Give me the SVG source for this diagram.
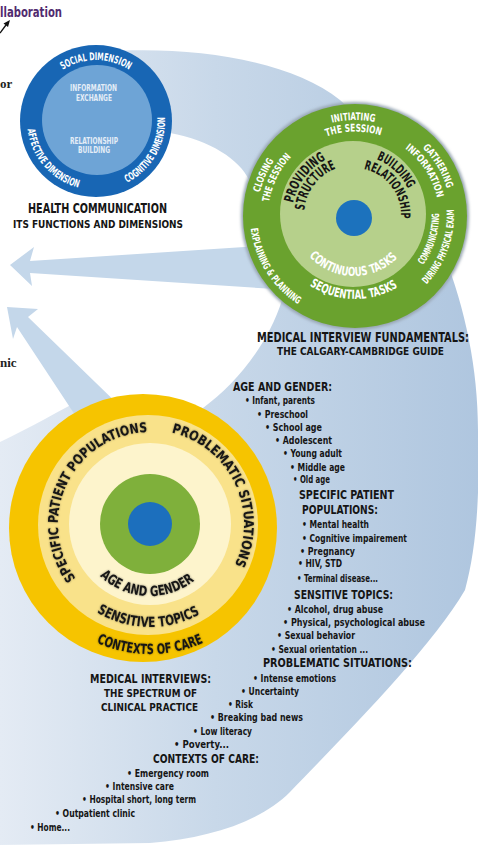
<svg xmlns="http://www.w3.org/2000/svg" xmlns:xlink="http://www.w3.org/1999/xlink" width="478" height="845" viewBox="0 0 478 845">
<style>
.t{font-family:"Liberation Sans Narrow","DejaVu Sans Condensed","Liberation Sans",Arial,sans-serif;font-weight:bold}
.w{fill:#ffffff}
.wl{fill:#e4edf7}
.k{fill:#151515}
.li{font-size:10px}
.lh{font-size:13px}
.ys{filter:url(#glow)}
.arrow{fill:#c4d7ea}
</style>
<defs>
<linearGradient id="bg" gradientUnits="userSpaceOnUse" x1="0" y1="0" x2="478" y2="0">
<stop offset="0" stop-color="#e4ebf4"/>
<stop offset="0.45" stop-color="#c8d8e9"/>
<stop offset="1" stop-color="#afc6df"/>
</linearGradient>
<filter id="glow" x="-10%" y="-10%" width="120%" height="120%">
<feGaussianBlur in="SourceAlpha" stdDeviation="1.2" result="b"/>
<feComponentTransfer in="b" result="s"><feFuncA type="linear" slope="0.45"/></feComponentTransfer>
<feMerge><feMergeNode in="s"/><feMergeNode in="SourceGraphic"/></feMerge>
</filter>
<filter id="shadow" x="-10%" y="-10%" width="120%" height="120%">
<feGaussianBlur stdDeviation="1.5"/>
</filter>
<path id="bSocial" d="M43.2,90.5 A61,61 0 0 1 148.8,90.5"/>
<path id="bCog" d="M96,190 A69,69 0 0 0 155.8,86.5"/>
<path id="bAff" d="M30.8,98.5 A69,69 0 0 0 109.2,188.7"/>
<path id="gInit" d="M271,169.5 A96,96 0 0 1 437.3,166.6"/>
<path id="gSess" d="M281.1,175 A84.5,84.5 0 0 1 427.4,172.5"/>
<path id="gGath" d="M353.3,120 A96,96 0 0 1 439,262.5"/>
<path id="gInfo" d="M350.6,132.1 A84,84 0 0 1 429.8,254.1"/>
<path id="gComm" d="M373.9,297.8 A84,84 0 0 0 416.4,158.7"/>
<path id="gDur" d="M372.2,313.5 A99,99 0 0 0 430.8,152.4"/>
<path id="gExpl" d="M262.3,166.7 A105,105 0 0 0 358.7,320.9"/>
<path id="gClos" d="M275.7,273.6 A98,98 0 0 1 344.8,118.5"/>
<path id="gThe" d="M282.9,264.6 A87,87 0 0 1 348.9,129.2"/>
<path id="gSeq" d="M282.4,256.2 A83,83 0 0 0 426.1,258.7"/>
<path id="gCont" d="M300.6,244.6 A61,61 0 0 0 406.3,246.4"/>
<path id="gProv" d="M296.9,239.2 A62,62 0 0 1 361.6,153.5"/>
<path id="gStru" d="M308,234.5 A50,50 0 0 1 360.1,165.4"/>
<path id="gBuil" d="M336.5,157.6 A60,60 0 0 1 412.5,228.5"/>
<path id="gRela" d="M348.3,168.4 A47,47 0 0 1 397.3,233.4"/>
<path id="ySpec" d="M124.6,612.4 A92,92 0 1 1 204.1,449.6"/>
<path id="yProb" d="M95.4,447.5 A94,94 0 1 1 175.1,614.6"/>
<path id="yAge" d="M85.8,556.7 A72,72 0 0 0 210.4,563.2"/>
<path id="ySens" d="M59.9,573.9 A103,103 0 0 0 238.3,577"/>
<path id="yCont" d="M37.4,589 A130,130 0 0 0 262.6,589"/>
</defs>

<rect width="478" height="845" fill="#ffffff"/>

<g id="background">
<path d="M100,52 C190,45 290,60 340,100 C420,170 478,300 478,430 C480,500 476,550 465,590 C430,650 340,740 290,792 C260,822 210,838 150,843 L0,845 L0,442 C30,428 60,410 90,395 L120,400 L190,405 L203,408 C235,385 268,345 282,300 L250,230 L249,180 C240,160 210,140 170,133 L130,60 Z" fill="url(#bg)"/>
</g>

<g id="connectors">
<polygon class="arrow" points="10,265 34,247 30,261 275,245 275,289 30,273 32,286"/>
<polygon class="arrow" points="7,307 38,309 28,317 129,415 77,418 17,327 13,339"/>
</g>

<g id="edge-texts">
<text class="t" x="0" y="17" font-size="14" fill="#512b70" textLength="62" lengthAdjust="spacingAndGlyphs">llaboration</text>
<line x1="0" y1="33" x2="6" y2="25" stroke="#111" stroke-width="1.3"/>
<polygon points="10,20 3.5,23.5 8,27" fill="#111"/>
<text x="0" y="88" font-family="'Liberation Serif',serif" font-weight="bold" font-size="13" fill="#222">or</text>
<text x="0" y="367" font-family="'Liberation Serif',serif" font-weight="bold" font-size="13" fill="#222">nic</text>
</g>

<g id="health-communication">
<circle cx="96" cy="121" r="76" fill="#1866b4"/>
<circle cx="97" cy="120" r="55" fill="#6ea4d6"/>
<text class="t w" font-size="10.5"><textPath href="#bSocial" startOffset="50%" text-anchor="middle" textLength="70" lengthAdjust="spacingAndGlyphs">SOCIAL DIMENSION</textPath></text>
<text class="t w" font-size="10.5"><textPath href="#bCog" startOffset="50%" text-anchor="middle" textLength="80" lengthAdjust="spacingAndGlyphs">COGNITIVE DIMENSION</textPath></text>
<text class="t w" font-size="10.5"><textPath href="#bAff" startOffset="50%" text-anchor="middle" textLength="82" lengthAdjust="spacingAndGlyphs">AFFECTIVE DIMENSION</textPath></text>
<text class="t wl" font-size="8" x="93.5" y="91" text-anchor="middle" textLength="47" lengthAdjust="spacingAndGlyphs">INFORMATION</text>
<text class="t wl" font-size="8" x="94" y="101" text-anchor="middle" textLength="36" lengthAdjust="spacingAndGlyphs">EXCHANGE</text>
<text class="t wl" font-size="8" x="94" y="144" text-anchor="middle" textLength="48" lengthAdjust="spacingAndGlyphs">RELATIONSHIP</text>
<text class="t wl" font-size="8" x="94" y="153" text-anchor="middle" textLength="32" lengthAdjust="spacingAndGlyphs">BUILDING</text>
<text class="t k" font-size="13.5" x="97.5" y="213" text-anchor="middle" textLength="139" lengthAdjust="spacingAndGlyphs">HEALTH COMMUNICATION</text>
<text class="t k" font-size="10.5" x="98" y="228" text-anchor="middle" textLength="170" lengthAdjust="spacingAndGlyphs">ITS FUNCTIONS AND DIMENSIONS</text>
</g>

<g id="calgary-cambridge">
<circle cx="355" cy="216" r="114" fill="#98a6b3" filter="url(#shadow)"/>
<circle cx="355" cy="216" r="112" fill="#6aa22e"/>
<circle cx="353" cy="214" r="73" fill="#b6d08b"/>
<circle cx="354" cy="218" r="18" fill="#1c72bd"/>
<text class="t w" font-size="10.5"><textPath href="#gInit" startOffset="50%" text-anchor="middle" textLength="43" lengthAdjust="spacingAndGlyphs">INITIATING</textPath></text>
<text class="t w" font-size="10.5"><textPath href="#gSess" startOffset="50%" text-anchor="middle" textLength="55" lengthAdjust="spacingAndGlyphs">THE SESSION</textPath></text>
<text class="t w" font-size="10"><textPath href="#gGath" startOffset="50%" text-anchor="middle" textLength="48" lengthAdjust="spacingAndGlyphs">GATHERING</textPath></text>
<text class="t w" font-size="10"><textPath href="#gInfo" startOffset="50%" text-anchor="middle" textLength="60" lengthAdjust="spacingAndGlyphs">INFORMATION</textPath></text>
<text class="t w" font-size="10"><textPath href="#gComm" startOffset="50%" text-anchor="middle" textLength="55" lengthAdjust="spacingAndGlyphs">COMMUNICATING</textPath></text>
<text class="t w" font-size="10"><textPath href="#gDur" startOffset="50%" text-anchor="middle" textLength="82" lengthAdjust="spacingAndGlyphs">DURING PHYSICAL EXAM</textPath></text>
<text class="t w" font-size="10"><textPath href="#gExpl" startOffset="50%" text-anchor="middle" textLength="92" lengthAdjust="spacingAndGlyphs">EXPLAINING &amp; PLANNING</textPath></text>
<text class="t w" font-size="10"><textPath href="#gClos" startOffset="50%" text-anchor="middle" textLength="35" lengthAdjust="spacingAndGlyphs">CLOSING</textPath></text>
<text class="t w" font-size="10"><textPath href="#gThe" startOffset="50%" text-anchor="middle" textLength="51" lengthAdjust="spacingAndGlyphs">THE SESSION</textPath></text>
<text class="t w" font-size="12.5"><textPath href="#gSeq" startOffset="50%" text-anchor="middle" textLength="93" lengthAdjust="spacingAndGlyphs">SEQUENTIAL TASKS</textPath></text>
<text class="t w" font-size="12.5"><textPath href="#gCont" startOffset="50%" text-anchor="middle" textLength="99" lengthAdjust="spacingAndGlyphs">CONTINUOUS TASKS</textPath></text>
<text class="t k" font-size="13.5"><textPath href="#gProv" startOffset="50%" text-anchor="middle" textLength="56" lengthAdjust="spacingAndGlyphs">PROVIDING</textPath></text>
<text class="t k" font-size="13.5"><textPath href="#gStru" startOffset="50%" text-anchor="middle" textLength="55" lengthAdjust="spacingAndGlyphs">STRUCTURE</textPath></text>
<text class="t k" font-size="13"><textPath href="#gBuil" startOffset="50%" text-anchor="middle" textLength="44" lengthAdjust="spacingAndGlyphs">BUILDING</textPath></text>
<text class="t k" font-size="13"><textPath href="#gRela" startOffset="50%" text-anchor="middle" textLength="67" lengthAdjust="spacingAndGlyphs">RELATIONSHIP</textPath></text>
<text class="t k" font-size="13.5" x="257" y="342" textLength="212" lengthAdjust="spacingAndGlyphs">MEDICAL INTERVIEW FUNDAMENTALS:</text>
<text class="t k" font-size="10.5" x="277" y="355" textLength="167" lengthAdjust="spacingAndGlyphs">THE CALGARY-CAMBRIDGE GUIDE</text>
</g>

<g id="spectrum">
<circle cx="143" cy="528" r="134" fill="#f6c400"/>
<circle cx="148" cy="525" r="110" fill="#f9e28a"/>
<circle cx="150" cy="524" r="81" fill="#fdf4cc"/>
<circle cx="150" cy="524" r="50" fill="#7fb03b"/>
<circle cx="150" cy="524" r="22" fill="#1c6fbd"/>
<text class="t k ys" font-size="13.5"><textPath href="#ySpec" startOffset="50%" text-anchor="middle" textLength="200" lengthAdjust="spacingAndGlyphs">SPECIFIC PATIENT POPULATIONS</textPath></text>
<text class="t k ys" font-size="13.5"><textPath href="#yProb" startOffset="50%" text-anchor="middle" textLength="168" lengthAdjust="spacingAndGlyphs">PROBLEMATIC SITUATIONS</textPath></text>
<text class="t k ys" font-size="14"><textPath href="#yAge" startOffset="50%" text-anchor="middle" textLength="103" lengthAdjust="spacingAndGlyphs">AGE AND GENDER</textPath></text>
<text class="t k ys" font-size="14"><textPath href="#ySens" startOffset="50%" text-anchor="middle" textLength="108" lengthAdjust="spacingAndGlyphs">SENSITIVE TOPICS</textPath></text>
<text class="t k ys" font-size="14"><textPath href="#yCont" startOffset="50%" text-anchor="middle" textLength="110" lengthAdjust="spacingAndGlyphs">CONTEXTS OF CARE</textPath></text>
<text class="t k" font-size="13" x="90" y="683" textLength="121" lengthAdjust="spacingAndGlyphs">MEDICAL INTERVIEWS:</text>
<text class="t k" font-size="10.5" x="104" y="697" textLength="93" lengthAdjust="spacingAndGlyphs">THE SPECTRUM OF</text>
<text class="t k" font-size="10.5" x="101" y="711" textLength="97" lengthAdjust="spacingAndGlyphs">CLINICAL PRACTICE</text>
</g>

<g id="lists" class="t k">
<text class="lh" x="233" y="391" textLength="99" lengthAdjust="spacingAndGlyphs">AGE AND GENDER:</text>
<text class="li" x="245" y="404" textLength="70" lengthAdjust="spacingAndGlyphs">• Infant, parents</text>
<text class="li" x="257" y="418" textLength="51" lengthAdjust="spacingAndGlyphs">• Preschool</text>
<text class="li" x="265" y="431" textLength="57" lengthAdjust="spacingAndGlyphs">• School age</text>
<text class="li" x="275" y="444" textLength="57" lengthAdjust="spacingAndGlyphs">• Adolescent</text>
<text class="li" x="283" y="457" textLength="59" lengthAdjust="spacingAndGlyphs">• Young adult</text>
<text class="li" x="290" y="471" textLength="55" lengthAdjust="spacingAndGlyphs">• Middle age</text>
<text class="li" x="293" y="483" textLength="37" lengthAdjust="spacingAndGlyphs">• Old age</text>
<text class="lh" x="299" y="499" textLength="95" lengthAdjust="spacingAndGlyphs">SPECIFIC PATIENT</text>
<text class="lh" x="302" y="514" textLength="76" lengthAdjust="spacingAndGlyphs">POPULATIONS:</text>
<text class="li" x="302" y="528" textLength="67" lengthAdjust="spacingAndGlyphs">• Mental health</text>
<text class="li" x="302" y="542" textLength="105" lengthAdjust="spacingAndGlyphs">• Cognitive impairement</text>
<text class="li" x="300" y="555" textLength="55" lengthAdjust="spacingAndGlyphs">• Pregnancy</text>
<text class="li" x="298" y="567" textLength="44" lengthAdjust="spacingAndGlyphs">• HIV, STD</text>
<text class="li" x="297" y="582" textLength="81" lengthAdjust="spacingAndGlyphs">• Terminal disease...</text>
<text class="lh" x="294" y="599" textLength="99" lengthAdjust="spacingAndGlyphs">SENSITIVE TOPICS:</text>
<text class="li" x="287" y="613" textLength="96" lengthAdjust="spacingAndGlyphs">• Alcohol, drug abuse</text>
<text class="li" x="283" y="626" textLength="142" lengthAdjust="spacingAndGlyphs">• Physical, psychological abuse</text>
<text class="li" x="277" y="639" textLength="78" lengthAdjust="spacingAndGlyphs">• Sexual behavior</text>
<text class="li" x="271" y="653" textLength="97" lengthAdjust="spacingAndGlyphs">• Sexual orientation ...</text>
<text class="lh" x="263" y="667" textLength="149" lengthAdjust="spacingAndGlyphs">PROBLEMATIC SITUATIONS:</text>
<text class="li" x="253" y="682" textLength="83" lengthAdjust="spacingAndGlyphs">• Intense emotions</text>
<text class="li" x="241" y="695" textLength="58" lengthAdjust="spacingAndGlyphs">• Uncertainty</text>
<text class="li" x="228" y="708" textLength="25" lengthAdjust="spacingAndGlyphs">• Risk</text>
<text class="li" x="210" y="721" textLength="93" lengthAdjust="spacingAndGlyphs">• Breaking bad news</text>
<text class="li" x="193" y="735" textLength="59" lengthAdjust="spacingAndGlyphs">• Low literacy</text>
<text class="li" x="174" y="748" textLength="55" lengthAdjust="spacingAndGlyphs">• Poverty...</text>
<text class="lh" x="153" y="763" textLength="106" lengthAdjust="spacingAndGlyphs">CONTEXTS OF CARE:</text>
<text class="li" x="127" y="777" textLength="82" lengthAdjust="spacingAndGlyphs">• Emergency room</text>
<text class="li" x="105" y="790" textLength="69" lengthAdjust="spacingAndGlyphs">• Intensive care</text>
<text class="li" x="82" y="803" textLength="114" lengthAdjust="spacingAndGlyphs">• Hospital short, long term</text>
<text class="li" x="55" y="817" textLength="80" lengthAdjust="spacingAndGlyphs">• Outpatient clinic</text>
<text class="li" x="30" y="831" textLength="40" lengthAdjust="spacingAndGlyphs">• Home...</text>
</g>
</svg>
